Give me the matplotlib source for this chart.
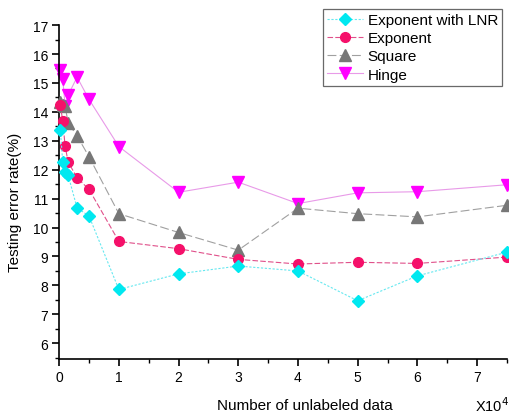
import matplotlib
matplotlib.use("Agg")
import matplotlib.pyplot as plt
from matplotlib.ticker import MultipleLocator

plt.rcParams["font.family"] = ["Liberation Sans", "DejaVu Sans"]

# ── data (x in units of 10^4 unlabeled samples, y = testing error rate %) ──
x_unlabeled = [0.02, 0.06, 0.1, 0.15, 0.3, 0.5, 1, 2, 3, 4, 5, 6, 7.5]

err_exp_lnr = [13.37, 12.25, 11.93, 11.81, 10.68, 10.40, 7.86, 8.40, 8.67,
               8.50, 7.47, 8.33, 9.15]
err_exp     = [14.25, 13.67, 12.82, 12.27, 11.72, 11.32, 9.52, 9.27, 8.90,
               8.74, 8.80, 8.76, 8.98]
err_square  = [14.35, 14.25, 14.20, 13.62, 13.17, 12.45, 10.48, 9.83, 9.22,
               10.67, 10.48, 10.37, 10.77]
err_hinge   = [15.44, 15.15, 14.20, 14.58, 15.20, 14.43, 12.80, 11.22, 11.57,
               10.83, 11.20, 11.24, 11.48]

labels = ["Exponent with LNR", "Exponent", "Square", "Hinge"]

# ── figure ──────────────────────────────────────────────────────────────────
fig = plt.figure(figsize=(5.1, 4.14), dpi=100)
ax = fig.add_axes([0.116, 0.130, 0.878, 0.807])

ax.plot(x_unlabeled, err_exp_lnr, color="#66E8F0", ls=(0, (2, 1.5)), lw=0.8,
        marker="D", ms=6.5, mfc="#00E8F0", mec="#00E8F0",
        label=labels[0], clip_on=False, zorder=5)
ax.plot(x_unlabeled, err_exp, color="#E0508A", ls=(0, (5, 2)), lw=0.8,
        marker="o", ms=7, mfc="#F5106A", mec="#F5106A",
        label=labels[1], clip_on=False, zorder=4)
ax.plot(x_unlabeled, err_square, color="#A0A0A0", ls=(0, (8, 3)), lw=0.8,
        marker="^", ms=8, mfc="#777777", mec="#777777",
        label=labels[2], clip_on=False, zorder=3)
ax.plot(x_unlabeled, err_hinge, color="#E89AE8", ls="-", lw=0.8,
        marker="v", ms=9, mfc="#FF00FF", mec="#FF00FF",
        label=labels[3], clip_on=False, zorder=2)

ax.set_xlim(0, 7.5)
ax.set_ylim(5.45, 17)
ax.xaxis.set_major_locator(MultipleLocator(1))
ax.xaxis.set_minor_locator(MultipleLocator(0.5))
ax.yaxis.set_major_locator(MultipleLocator(1))
ax.yaxis.set_minor_locator(MultipleLocator(0.5))
ax.set_yticks(range(6, 18))

for side in ("top", "right"):
    ax.spines[side].set_visible(False)
ax.spines["left"].set_linewidth(1.2)
ax.spines["bottom"].set_linewidth(1.2)
ax.tick_params(which="major", direction="out", length=5, width=1.2,
               labelsize=10, pad=3)
ax.tick_params(which="minor", direction="out", length=3, width=1.0)

ax.set_xlabel("Number of unlabeled data", fontsize=11)
ax.xaxis.set_label_coords(0.549, -0.138)
ax.xaxis.label.set_va("center")
ax.set_ylabel("Testing error rate(%)", fontsize=11)
ax.yaxis.set_label_coords(-0.098, 0.473)
ax.yaxis.label.set_va("center")
fig.text(0.998, 0.02, r"X10$^4$", fontsize=10.5, ha="right", va="center")

leg = ax.legend(loc="upper right", bbox_to_anchor=(0.989, 1.048), fontsize=11,
                frameon=True, fancybox=False, handlelength=2.4,
                borderpad=0.25, labelspacing=0.28, handletextpad=0.3,
                borderaxespad=0)
leg.get_frame().set_edgecolor("#444444")
leg.get_frame().set_linewidth(0.9)

fig.savefig("out.png", dpi=100)
